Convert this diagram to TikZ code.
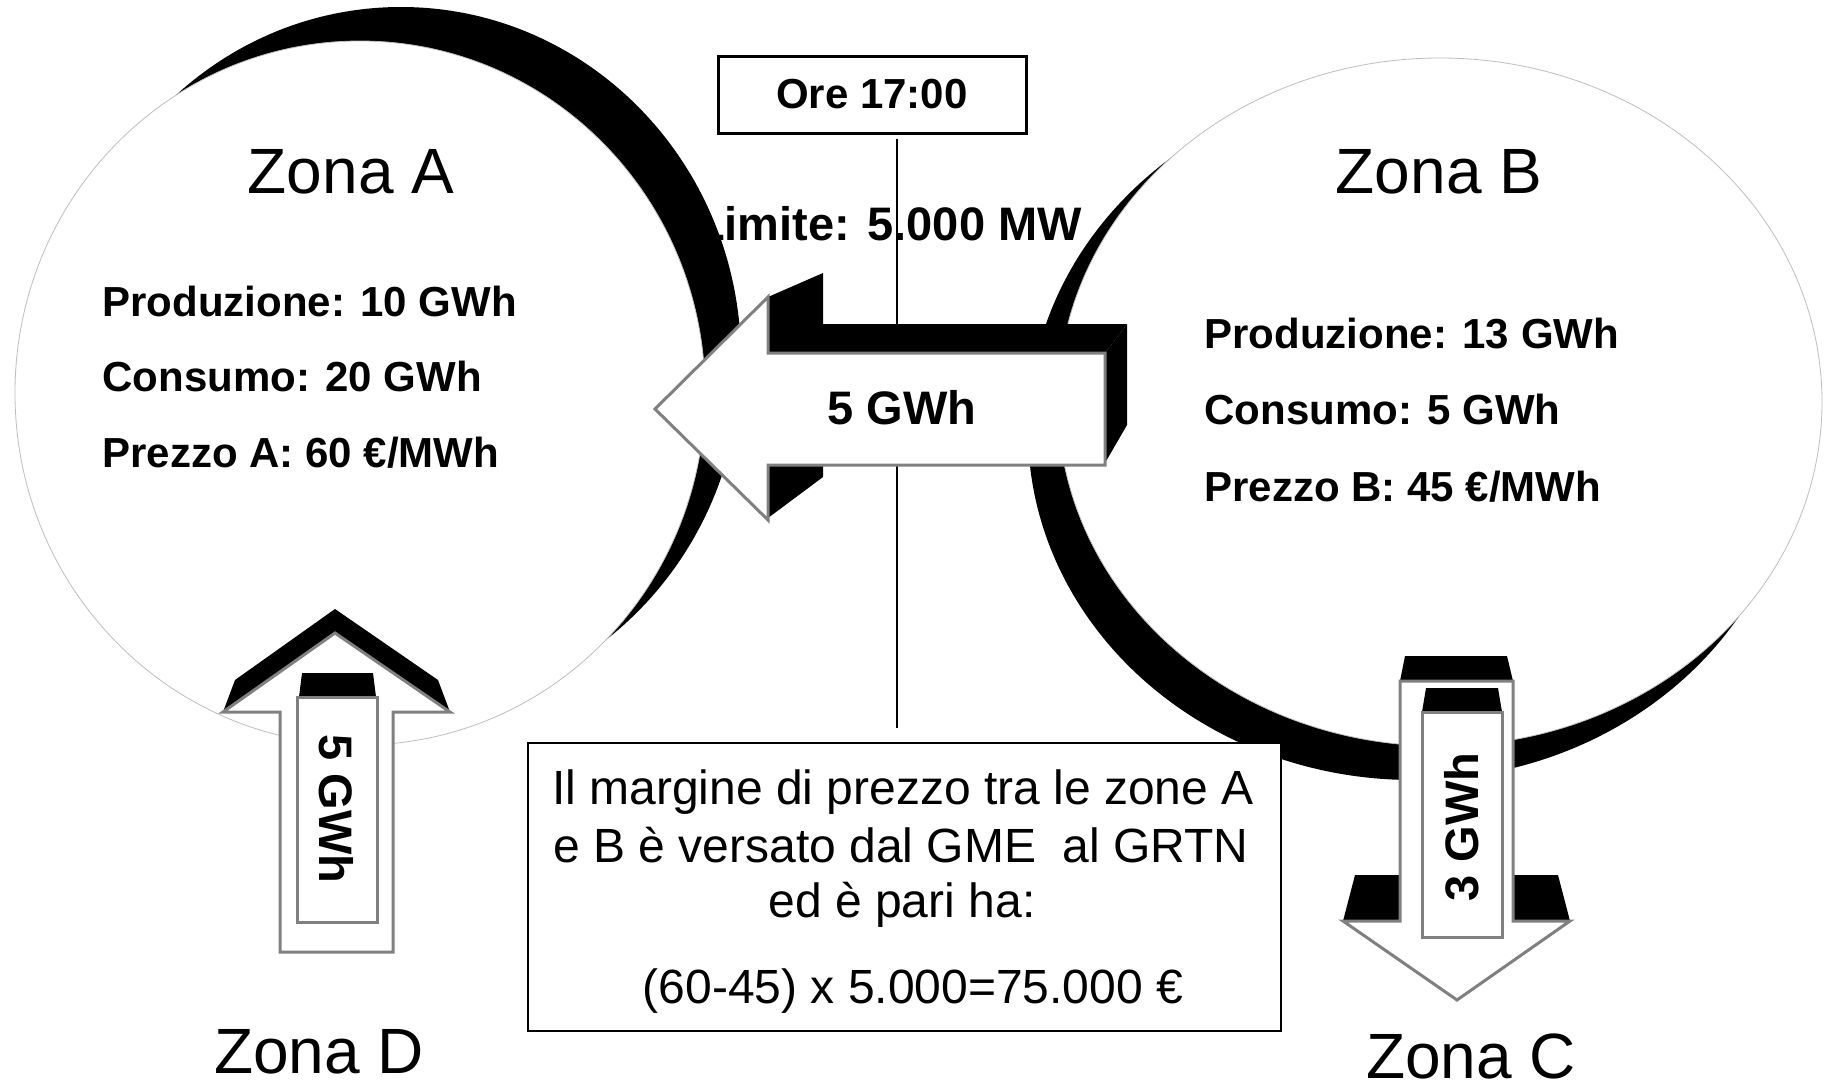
\documentclass[tikz,border=0pt]{standalone}
\usepackage{fontspec}
\setmainfont{Liberation Sans}
\definecolor{arrowgray}{RGB}{128,128,128}
\definecolor{rimgray}{RGB}{190,190,190}
\begin{document}
\begin{tikzpicture}[x=0.5pt,y=-0.5pt,
  blk/.style={fill=black,draw=none},
  front/.style={fill=white,draw=arrowgray,line width=1.5pt,line join=miter},
  zonelabel/.style={font=\fontsize{32}{38}\selectfont,inner sep=0pt,anchor=base},
  infotext/.style={font=\bfseries\fontsize{21}{25}\selectfont,inner sep=0pt,anchor=base west},
  flowtext/.style={font=\bfseries\fontsize{23.5}{28}\selectfont,inner sep=0pt},
  boxtext/.style={font=\fontsize{24}{29}\selectfont,inner sep=0pt,anchor=base},
  zonewhite/.style={fill=white,draw=rimgray,line width=0.4pt}
]
\useasboundingbox (0,0) rectangle (1826,1092);
\fill[white] (0,0) rectangle (1826,1092);

% limit label (partly hidden behind zone A)
\node[font=\bfseries\fontsize{23.5}{28}\selectfont,anchor=base,inner sep=0pt] (limite) at (889,240) {Limite: 5.000 MW};

% Zone A
\fill[black] (401,359) ellipse [x radius=170pt, y radius=176pt];
\path[zonewhite] (360,393) ellipse [x radius=172.5pt, y radius=176pt];
% Zone B
\fill[black] (1413,430) ellipse [x radius=192.5pt, y radius=175pt];
\path[zonewhite] (1440,402) ellipse [x radius=191pt, y radius=172pt];

% time box and vertical line
\node[draw,line width=1.5pt,fill=white,minimum width=154pt,minimum height=38.5pt,inner sep=0pt,
      font=\bfseries\fontsize{21}{25}\selectfont] (ore) at (872,94.5) {Ore 17:00};
\coordinate (lineend) at (897,728);
\draw[line width=1.4pt] (ore.south -| lineend) ++(0,4) -- (lineend);

% big left arrow A <- B
\fill[blk] (768,297) -- (823,273) -- (823,324) -- (1127,324) -- (1105,353) -- (768,353) -- cycle;
\fill[blk] (1105,353) -- (1127,324) -- (1127,425) -- (1105,463) -- cycle;
\fill[blk] (768,466) -- (823,466) -- (823,477) -- (768,518) -- cycle;
\path[front] (655,409) -- (768,297) -- (768,353) -- (1105,353) -- (1105,465) -- (768,465) -- (768,520) -- cycle;
\node[flowtext] (flowab) at (902,408) {5 GWh};

% up arrow D -> A
\fill[blk] (223,712) -- (235,680) -- (335,609) -- (438,680) -- (450,712) -- (335,633) -- cycle;
\path[front] (335,633) -- (450,712) -- (393,712) -- (393,952) -- (280,952) -- (280,712) -- (223,712) -- cycle;
\fill[blk] (302,673) -- (373,673) -- (376,697) -- (299,697) -- cycle;
\path[front] (297,697) rectangle (377,922);
\node[flowtext,rotate=-90] (flowda) at (336,809) {5 GWh};

% down arrow B -> C
\fill[blk] (1405,656) -- (1507,656) -- (1513,681) -- (1400,681) -- cycle;
\fill[blk] (1343,921) -- (1355,875) -- (1400,875) -- (1400,921) -- cycle;
\fill[blk] (1513,875) -- (1558,875) -- (1570,921) -- (1513,921) -- cycle;
\path[front] (1400,681) -- (1513,681) -- (1513,921) -- (1570,921) -- (1457,1000) -- (1343,921) -- (1400,921) -- cycle;
\fill[blk] (1426,688) -- (1498,688) -- (1502,712) -- (1422,712) -- cycle;
\path[front] (1422,712) rectangle (1502,937);
\node[flowtext,rotate=90] (flowbc) at (1462,827) {3 GWh};

% explanation box
\node[draw,line width=1.3pt,fill=white,minimum width=376.5pt,minimum height=144pt,inner sep=0pt] (expl) at (904.5,887) {};
\node[boxtext] (l1) at (903,804) {Il margine di prezzo tra le zone A};
\node[boxtext] (l2) at (901,862) {e B è versato dal GME\ \ al GRTN};
\node[boxtext] (l3) at (902,917) {ed è pari ha:};
\node[boxtext] (l4) at (913,1003) {(60-45) x 5.000=75.000 €};

% zone labels
\node[zonelabel] (za) at (351,193) {Zona A};
\node[zonelabel] (zb) at (1439,193) {Zona B};
\node[zonelabel] (zd) at (319,1073) {Zona D};
\node[zonelabel,text depth=0pt] (zc) at (1471,1078) {Zona C};

% zone data
\node[infotext] (pa) at (102,316) {Produzione: 10 GWh};
\node[infotext] (ca) at (102,391) {Consumo: 20 GWh};
\node[infotext] (xa) at (102,467) {Prezzo A: 60 €/MWh};
\node[infotext] (pb) at (1204,348) {Produzione: 13 GWh};
\node[infotext] (cb) at (1204,424) {Consumo: 5 GWh};
\node[infotext] (xb) at (1204,501) {Prezzo B: 45 €/MWh};
\end{tikzpicture}
\end{document}
